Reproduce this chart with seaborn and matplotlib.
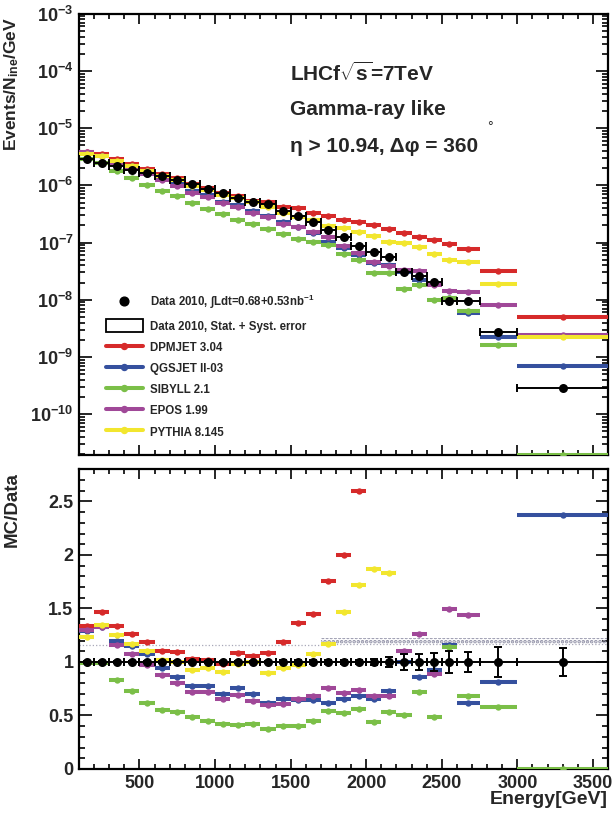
import numpy as np
import pandas as pd
import matplotlib
matplotlib.use('Agg')
import matplotlib.pyplot as plt
import matplotlib.ticker as mticker
from matplotlib.lines import Line2D
from matplotlib.patches import Patch
import seaborn as sns

sns.set_theme(style='ticks')
plt.rcParams.update({
    'font.family': ['Liberation Sans', 'DejaVu Sans'],
    'font.weight': 'bold',
    'axes.labelweight': 'bold',
    'mathtext.fontset': 'custom',
    'mathtext.rm': 'Liberation Sans:bold',
    'mathtext.bf': 'Liberation Sans:bold',
    'mathtext.it': 'Liberation Sans:bold:italic',
    'mathtext.default': 'regular',
    'xtick.direction': 'in', 'ytick.direction': 'in',
    'xtick.top': True, 'ytick.right': True,
    'axes.linewidth': 1.6,
    'hatch.linewidth': 1.8,
})

# ---- bins (GeV) ----
bin_lo = [100, 200, 300, 400, 500, 600, 700, 800, 900, 1000, 1100, 1200, 1300, 1400,
          1500, 1600, 1700, 1800, 1900, 2000, 2100, 2200, 2300, 2400, 2500, 2600, 2750, 3000]
bin_hi = [200, 300, 400, 500, 600, 700, 800, 900, 1000, 1100, 1200, 1300, 1400, 1500,
          1600, 1700, 1800, 1900, 2000, 2100, 2200, 2300, 2400, 2500, 2600, 2750, 3000, 3600]

# ---- spectra, Events/N_ine/GeV ----
data_top = [2.9e-6, 2.44e-6, 2.14e-6, 1.87e-6, 1.64e-6, 1.43e-6, 1.22e-6, 1.04e-6, 8.75e-7,
            7.46e-7, 6.1e-7, 5.07e-7, 4.68e-7, 3.54e-7, 2.9e-7, 2.3e-7, 1.66e-7, 1.24e-7,
            8.8e-8, 6.8e-8, 5.6e-8, 3.0e-8, 2.57e-8, 2.04e-8, 9.4e-9, 9.4e-9, 2.77e-9, 2.89e-10]
dpmjet_top = [3.89e-6, 3.57e-6, 2.87e-6, 2.37e-6, 1.95e-6, 1.58e-6, 1.33e-6, 1.07e-6, 8.9e-7,
              7.3e-7, 6.6e-7, 5.37e-7, 5.05e-7, 4.21e-7, 3.96e-7, 3.34e-7, 2.92e-7, 2.48e-7,
              2.29e-7, 2.0e-7, 1.72e-7, 1.46e-7, 1.27e-7, 1.11e-7, 9.5e-8, 7.8e-8, 3.13e-8, 4.97e-9]
qgsjet_top = [3.73e-6, 3.25e-6, 2.57e-6, 2.14e-6, 1.75e-6, 1.34e-6, 1.05e-6, 8.1e-7, 6.8e-7,
              5.2e-7, 4.6e-7, 3.55e-7, 2.88e-7, 2.3e-7, 1.86e-7, 1.47e-7, 1.02e-7, 8.1e-8,
              6.0e-8, 4.4e-8, 4.1e-8, 3.0e-8, 2.2e-8, 1.89e-8, 1.09e-8, 5.8e-9, 2.24e-9, 6.9e-10]
sibyll_top = [2.87e-6, 2.42e-6, 1.78e-6, 1.37e-6, 1.01e-6, 7.9e-7, 6.5e-7, 5.0e-7, 3.9e-7,
              3.13e-7, 2.5e-7, 2.13e-7, 1.76e-7, 1.41e-7, 1.17e-7, 1.02e-7, 8.9e-8, 6.4e-8,
              4.9e-8, 2.98e-8, 2.99e-8, 1.52e-8, 1.84e-8, 1.0e-8, 1.07e-8, 6.4e-9, 1.6e-9, 0.0]
epos_top = [3.77e-6, 3.25e-6, 2.49e-6, 2.02e-6, 1.6e-6, 1.26e-6, 9.8e-7, 7.5e-7, 6.3e-7,
            4.87e-7, 4.23e-7, 3.23e-7, 2.78e-7, 2.15e-7, 1.89e-7, 1.56e-7, 1.25e-7, 8.8e-8,
            6.5e-8, 4.6e-8, 3.83e-8, 3.3e-8, 3.24e-8, 1.82e-8, 1.41e-8, 1.36e-8, 8.0e-9, 2.4e-9]
pythia_top = [3.58e-6, 3.28e-6, 2.68e-6, 2.19e-6, 1.80e-6, 1.45e-6, 1.22e-6, 9.65e-7, 8.26e-7,
              6.76e-7, 5.98e-7, 5.07e-7, 4.2e-7, 3.33e-7, 2.83e-7, 2.47e-7, 1.94e-7, 1.82e-7,
              1.51e-7, 1.29e-7, 1.03e-7, 9.8e-8, 8.2e-8, 6.4e-8, 5.0e-8, 4.5e-8, 1.91e-8, 2.26e-9]

# ---- MC/Data ratios ----
data_err = [0.01, 0.01, 0.01, 0.01, 0.01, 0.01, 0.01, 0.01, 0.01, 0.01, 0.012, 0.012, 0.013,
            0.014, 0.015, 0.016, 0.018, 0.02, 0.022, 0.025, 0.045, 0.075, 0.075, 0.085, 0.10,
            0.095, 0.14, 0.13]
dpmjet_r = [1.34, 1.465, 1.34, 1.265, 1.19, 1.105, 1.09, 1.03, 1.02, 0.98, 1.08, 1.06, 1.08,
            1.19, 1.365, 1.45, 1.76, 2.0, 2.6, 2.94, 3.07, 4.9, 4.9, 5.4, 10.1, 8.3, 11.3, 17.2]
qgsjet_r = [1.285, 1.33, 1.2, 1.146, 1.07, 0.94, 0.86, 0.778, 0.778, 0.70, 0.756, 0.70, 0.615,
            0.65, 0.64, 0.64, 0.615, 0.656, 0.68, 0.65, 0.73, 1.0, 0.856, 0.928, 1.162, 0.62,
            0.81, 2.375]
sibyll_r = [0.99, 0.99, 0.834, 0.73, 0.616, 0.553, 0.53, 0.484, 0.444, 0.42, 0.41, 0.42, 0.375,
            0.397, 0.403, 0.444, 0.538, 0.52, 0.56, 0.4375, 0.534, 0.506, 0.715, 0.49, 1.137,
            0.678, 0.575, 0.0]
epos_r = [1.30, 1.33, 1.162, 1.078, 0.975, 0.88, 0.805, 0.72, 0.72, 0.653, 0.694, 0.6375, 0.594,
          0.606, 0.653, 0.678, 0.756, 0.71, 0.74, 0.678, 0.684, 1.106, 1.262, 0.89, 1.497,
          1.443, 2.9, 8.3]
pythia_r = [1.235, 1.345, 1.25, 1.17, 1.10, 1.016, 1.0, 0.928, 0.944, 0.906, 0.98, 1.0, 0.897,
            0.94, 0.975, 1.075, 1.17, 1.466, 1.716, 1.87, 1.834, 3.3, 3.2, 3.1, 5.3, 4.8, 6.9, 7.8]

# systematic band (ratio units)
syst_lo = [1.16, 1.16, 1.16, 1.16, 1.16, 1.16, 1.16, 1.16, 1.16, 1.16, 1.16, 1.16, 1.16, 1.16,
           1.16, 1.16, 1.17, 1.17, 1.17, 1.17, 1.17, 1.17, 1.17, 1.17, 1.17, 1.17, 1.17, 1.17]
syst_hi = [1.16, 1.16, 1.16, 1.16, 1.16, 1.16, 1.16, 1.16, 1.16, 1.16, 1.16, 1.16, 1.16, 1.16,
           1.16, 1.16, 1.225, 1.225, 1.225, 1.225, 1.225, 1.225, 1.225, 1.225, 1.225, 1.225,
           1.225, 1.225]

models = [
    ('DPMJET 3.04', dpmjet_top, dpmjet_r, '#d62a2a'),
    ('QGSJET II-03', qgsjet_top, qgsjet_r, '#35509e'),
    ('SIBYLL 2.1', sibyll_top, sibyll_r, '#7bbf48'),
    ('EPOS 1.99', epos_top, epos_r, '#a04898'),
    ('PYTHIA 8.145', pythia_top, pythia_r, '#f2e62e'),
]

lo = np.array(bin_lo, float)
hi = np.array(bin_hi, float)
xc = 0.5 * (lo + hi)
xerr = [xc - lo, hi - xc]
edges = np.append(lo, hi[-1])

y_floor = 1.93e-11

fig = plt.figure(figsize=(6.15, 8.19), dpi=100)
ax1 = fig.add_axes([0.1285, 0.4444, 0.8602, 0.5388])
ax2 = fig.add_axes([0.1285, 0.0611, 0.8602, 0.3659], sharex=ax1)

ax1.set_yscale('log')
ax1.set_ylim(y_floor, 1e-3)
ax2.set_ylim(0, 2.8)
ax2.set_xlim(100, 3600)

# ---- top panel ----
for i, (name, top, ratio, col) in enumerate(models):
    t = np.asarray(top, float)
    t = np.where(t > 0, t, y_floor)
    ax1.errorbar(xc, t, xerr=xerr, fmt='none', ecolor=col, elinewidth=2.9, capsize=0, zorder=3 + i)
    sns.scatterplot(x=xc, y=t, color=col, s=21, linewidth=0, ax=ax1, zorder=3.5 + i, legend=False)

ax1.errorbar(xc, data_top, xerr=xerr, fmt='none', ecolor='black', elinewidth=1.4,
             capsize=3, capthick=1.4, zorder=10)
sns.scatterplot(x=xc, y=data_top, color='black', s=42, linewidth=0, ax=ax1, zorder=11, legend=False)

# ---- bottom panel ----
ax2.stairs(syst_hi, edges, baseline=syst_lo, fill=True, hatch='....', facecolor='none',
           edgecolor='#9090a6', linewidth=0, zorder=1)
ax2.stairs(syst_lo, edges, baseline=None, color='#a8a8b8', linestyle=':', linewidth=0.9, zorder=1)

for i, (name, top, ratio, col) in enumerate(models):
    ax2.errorbar(xc, ratio, xerr=xerr, fmt='none', ecolor=col, elinewidth=2.9, capsize=0, zorder=3 + i)
    sns.scatterplot(x=xc, y=ratio, color=col, s=21, linewidth=0, ax=ax2, zorder=3.5 + i, legend=False)

ones = np.ones_like(xc)
ax2.errorbar(xc, ones, xerr=xerr, yerr=data_err, fmt='none', ecolor='black', elinewidth=1.4,
             capsize=3, capthick=1.4, zorder=10)
sns.scatterplot(x=xc, y=ones, color='black', s=42, linewidth=0, ax=ax2, zorder=11, legend=False)

# ---- axes cosmetics ----
for ax in (ax1, ax2):
    ax.tick_params(which='both', direction='in', top=True, right=True, width=1.4,
                   labelsize=13, pad=4)
    ax.tick_params(axis='y', which='major', length=9)
    ax.tick_params(axis='y', which='minor', length=4.5)
    ax.tick_params(axis='x', which='major', length=7)
    ax.tick_params(axis='x', which='minor', length=3.5)
    ax.set_xlabel('')
    ax.set_ylabel('')
    for s in ax.spines.values():
        s.set_linewidth(1.6)
        s.set_color('black')

ax1.yaxis.set_major_locator(mticker.LogLocator(base=10, numticks=20))
ax1.yaxis.set_minor_locator(mticker.LogLocator(base=10, subs=np.arange(2, 10), numticks=20))
ax1.yaxis.set_minor_formatter(mticker.NullFormatter())
ax1.tick_params(labelbottom=False)

ax2.xaxis.set_major_locator(mticker.MultipleLocator(500))
ax2.xaxis.set_minor_locator(mticker.MultipleLocator(100))
ax2.yaxis.set_major_locator(mticker.FixedLocator([0, 0.5, 1, 1.5, 2, 2.5]))
ax2.yaxis.set_major_formatter(mticker.FixedFormatter(['0', '0.5', '1', '1.5', '2', '2.5']))
ax2.yaxis.set_minor_locator(mticker.MultipleLocator(0.1))

# axis titles placed at the axis ends (ROOT style)
ax1.text(-0.11, 0.993, r'Events/N$_{\mathdefault{ine}}$/GeV', transform=ax1.transAxes,
         rotation=90, ha='right', va='top', fontsize=12.5, fontweight='bold')
ax2.text(-0.11, 0.99, 'MC/Data', transform=ax2.transAxes,
         rotation=90, ha='right', va='top', fontsize=13.5, fontweight='bold')
ax2.set_xlabel('Energy[GeV]', loc='right', fontsize=14, fontweight='bold')
ax2.xaxis.set_label_coords(1.0, -0.075)

# ---- annotations ----
ax1.text(0.399, 0.866, r'LHCf$\sqrt{s}$=7TeV', transform=ax1.transAxes, fontsize=15,
         fontweight='bold', va='center', ha='left')
ax1.text(0.399, 0.782, 'Gamma-ray like', transform=ax1.transAxes, fontsize=15,
         fontweight='bold', va='center', ha='left')
ax1.text(0.399, 0.699, 'η > 10.94, Δφ = 360', transform=ax1.transAxes, fontsize=15,
         fontweight='bold', va='center', ha='left')
ax1.text(0.777, 0.743, '°', transform=ax1.transAxes, fontsize=10, fontweight='normal',
         va='center', ha='center')

# ---- legend ----
handles = [Line2D([], [], ls='none', marker='o', color='black', ms=6.3),
           Patch(facecolor='white', edgecolor='black', linewidth=1.3)]
labels = [r'Data 2010, $\int$Ldt=0.68+0.53nb$^{-1}$', 'Data 2010, Stat. + Syst. error']
for name, top, ratio, col in models:
    handles.append(Line2D([], [], color=col, lw=2.9, marker='o', ms=4.3))
    labels.append(name)
ax1.legend(handles, labels, loc='upper left', bbox_to_anchor=(0.051, 0.367), frameon=False,
           fontsize=8.3, handlelength=3.2, handleheight=1.3, handletextpad=0.6,
           labelspacing=0.7, borderpad=0, borderaxespad=0)

fig.savefig('out.png', dpi=100)
